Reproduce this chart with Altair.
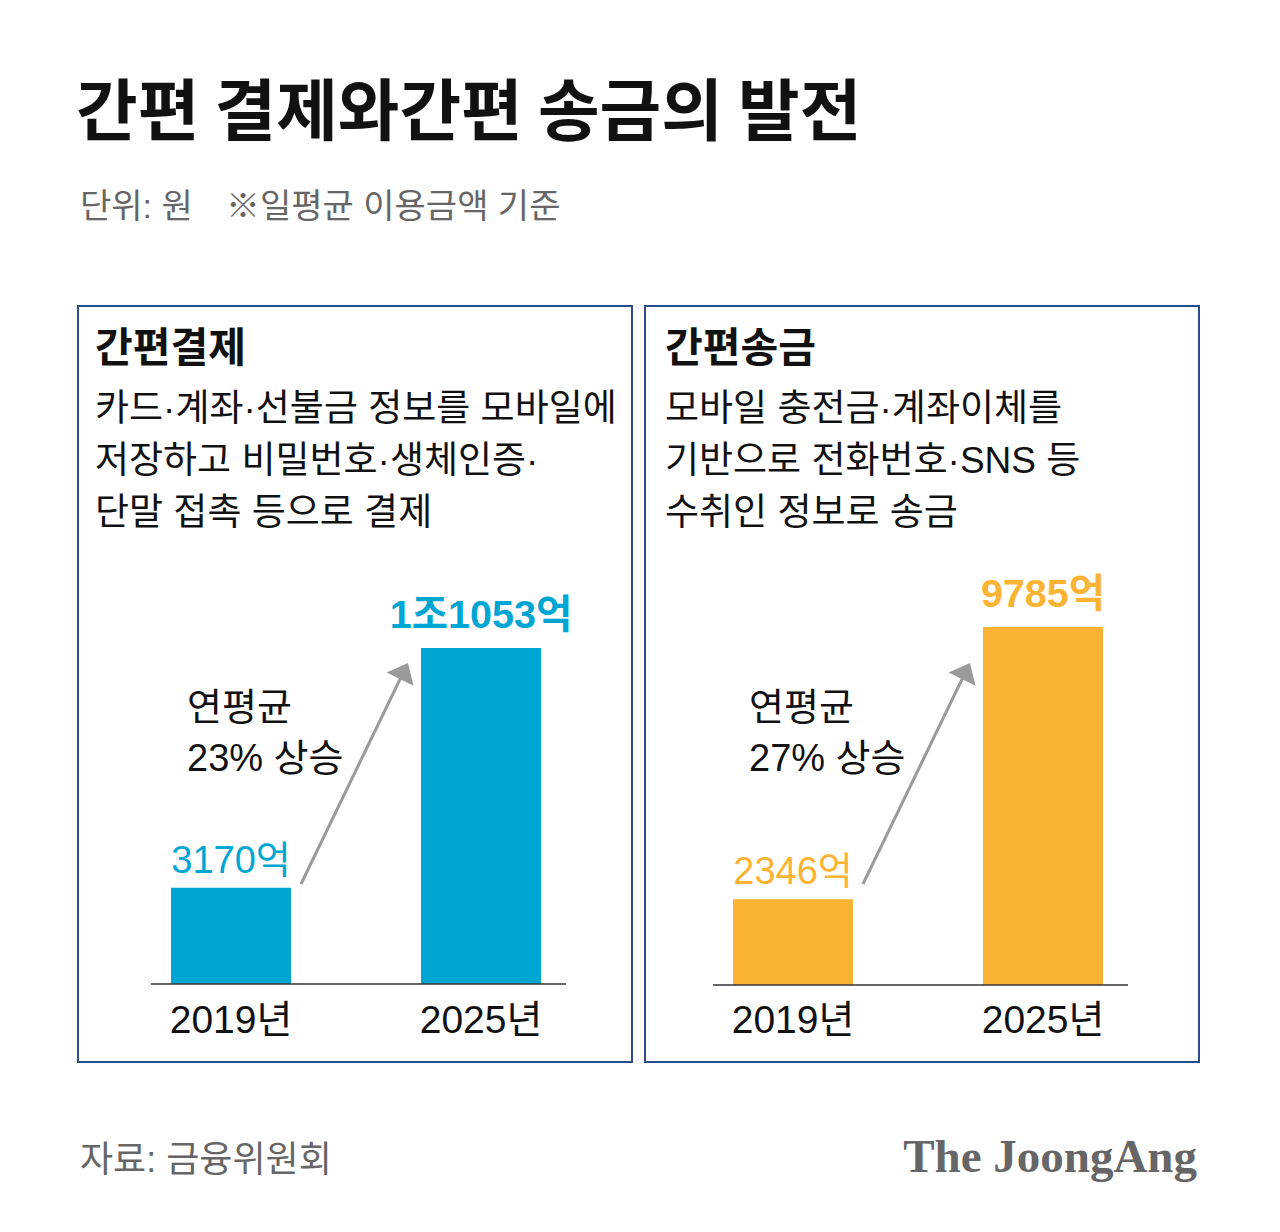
import altair as alt
import pandas as pd

# ---------------- data ----------------
years = ["2019년", "2025년"]
pay_values = [3170, 11053]
pay_labels = ["3170억", "1조1053억"]
remit_values = [2346, 9785]
remit_labels = ["2346억", "9785억"]

title_text = "간편 결제와간편 송금의 발전"
unit_text = "단위: 원"
note_text = "※일평균 이용금액 기준"
pay_title = "간편결제"
pay_desc = ["카드·계좌·선불금 정보를 모바일에", "저장하고 비밀번호·생체인증·", "단말 접촉 등으로 결제"]
remit_title = "간편송금"
remit_desc = ["모바일 충전금·계좌이체를", "기반으로 전화번호·SNS 등", "수취인 정보로 송금"]
pay_growth = ["연평균", "23% 상승"]
remit_growth = ["연평균", "27% 상승"]
source_text = "자료: 금융위원회"
brand_text = "The JoongAng"

BLUE = "#00a6d3"
ORANGE = "#fbb334"
NAVY = "#2d4a8c"
GRAY = "#666666"
ARROW = "#9a9a9a"
FONT = "Liberation Sans, Noto Sans CJK KR"
HFONT = "Noto Sans CJK KR"

W, H = 1280, 1232

pay_df = pd.DataFrame({"year": years, "value": pay_values, "label": pay_labels})
remit_df = pd.DataFrame({"year": years, "value": remit_values, "label": remit_labels})

one = alt.Data(values=[{}])


def txt(text, x, y, size, weight="normal", color="#111111", align="left", font=FONT):
    return alt.Chart(one).mark_text(
        text=text, font=font, fontSize=size, fontWeight=weight, color=color,
        align=align, baseline="middle"
    ).encode(x=alt.value(x), y=alt.value(y))


def panel(df, color, x_range, y_range, axis_x, axis_y):
    xs = alt.Scale(type="band", domain=years, range=x_range, paddingInner=0.52, paddingOuter=0.09)
    ys = alt.Scale(domain=[0, float(df["value"].max())], range=y_range)
    bars = alt.Chart(df).mark_bar(color=color).encode(
        x=alt.X("year:N", scale=xs, axis=None),
        y=alt.Y("value:Q", scale=ys, axis=None),
    )
    lab_small = alt.Chart(df[df["year"] == years[0]]).mark_text(
        font=FONT, fontSize=38, color=color, baseline="middle", dy=-26
    ).encode(
        x=alt.X("year:N", scale=xs, axis=None),
        y=alt.Y("value:Q", scale=ys, axis=None),
        text="label:N",
    )
    lab_big = alt.Chart(df[df["year"] == years[1]]).mark_text(
        font=FONT, fontSize=39.5, fontWeight="bold", color=color, baseline="middle", dy=-32
    ).encode(
        x=alt.X("year:N", scale=xs, axis=None),
        y=alt.Y("value:Q", scale=ys, axis=None),
        text="label:N",
    )
    xlab = alt.Chart(df).mark_text(
        font=FONT, fontSize=39, color="#111111", baseline="middle"
    ).encode(
        x=alt.X("year:N", scale=xs, axis=None),
        y=alt.value(1021),
        text="year:N",
    )
    axis_line = alt.Chart(one).mark_rule(color="#333333", strokeWidth=1.5).encode(
        x=alt.value(axis_x[0]), x2=alt.value(axis_x[1]), y=alt.value(axis_y)
    )
    return [bars, lab_small, lab_big, xlab, axis_line]


def box(x0, x1, y0, y1):
    return alt.Chart(one).mark_rect(fillOpacity=0, stroke=NAVY, strokeWidth=2).encode(
        x=alt.value(x0), x2=alt.value(x1), y=alt.value(y0), y2=alt.value(y1)
    )


def arrow(x0, y0, x1, y1, angle):
    line = alt.Chart(one).mark_rule(color=ARROW, strokeWidth=3).encode(
        x=alt.value(x0), y=alt.value(y0), x2=alt.value(x1), y2=alt.value(y1)
    )
    head = alt.Chart(one).mark_point(
        shape="M0,-0.6L1,0.6L-1,0.6Z", filled=True, size=900, angle=angle,
        color=ARROW, opacity=1
    ).encode(x=alt.value(x1), y=alt.value(y1))
    return [line, head]


layers = []
layers.append(box(78, 632, 306, 1062))
layers.append(box(645, 1199, 306, 1062))
layers += panel(pay_df, BLUE, [148.5, 563.5], [984, 648], (151, 566), 984)
layers += panel(remit_df, ORANGE, [710.5, 1125.5], [985, 627], (713, 1128), 985)
layers += arrow(301, 884, 404, 671, 26)
layers += arrow(863, 884, 966, 671, 26)

layers.append(txt(title_text, 76, 115, 67, weight="bold", font=HFONT))
layers.append(txt(unit_text, 80, 208, 34, color=GRAY))
layers.append(txt(note_text, 226, 208, 34, color=GRAY))
layers.append(txt(pay_title, 95, 350, 41, weight="bold"))
layers.append(txt(remit_title, 665, 350, 41, weight="bold"))
for i, line in enumerate(pay_desc):
    layers.append(txt(line, 95, 410 + 52 * i, 37))
for i, line in enumerate(remit_desc):
    layers.append(txt(line, 665, 410 + 52 * i, 37))
for i, line in enumerate(pay_growth):
    layers.append(txt(line, 187, 709 + 51 * i, 38))
for i, line in enumerate(remit_growth):
    layers.append(txt(line, 749, 709 + 51 * i, 38))
layers.append(txt(source_text, 80, 1161, 36, color=GRAY))
layers.append(txt(brand_text, 1197, 1158, 47, weight="bold", color=GRAY, align="right",
                  font="Liberation Serif"))

chart = alt.layer(*layers).resolve_scale(x="independent", y="independent").properties(
    width=W, height=H, padding=0, autosize=alt.AutoSizeParams(type="none"),
    background="white"
).configure_view(stroke=None)

chart.save("out.html", embed_options={"renderer": "svg", "actions": False})
